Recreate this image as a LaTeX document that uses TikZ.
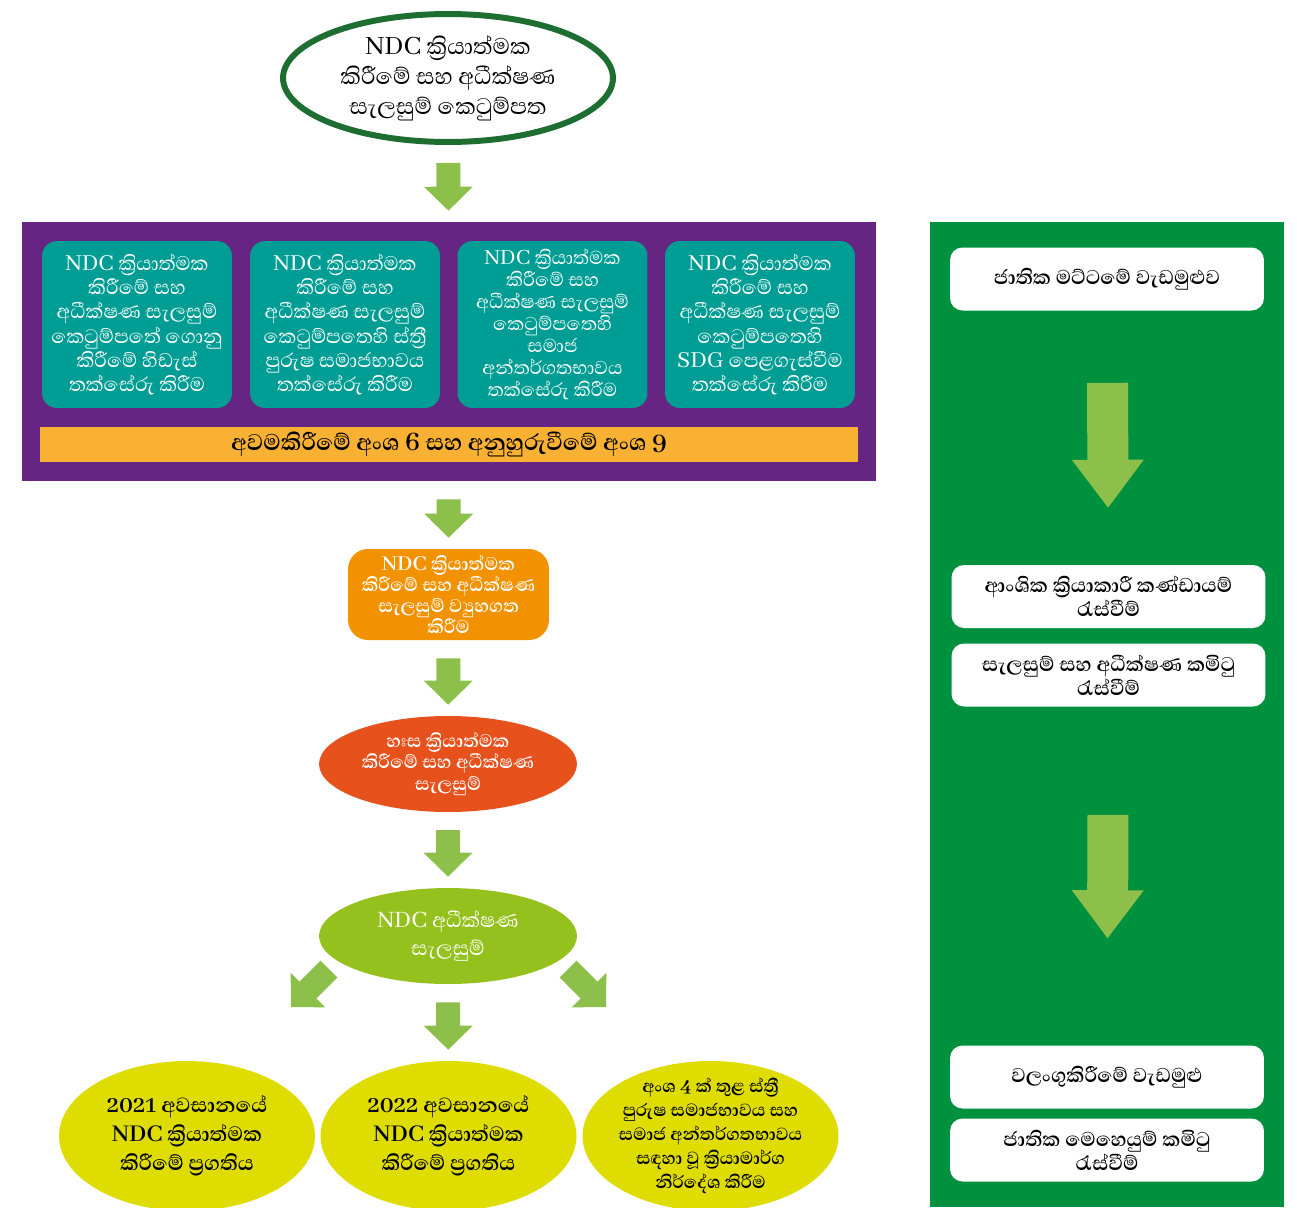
\documentclass[tikz,border=0pt]{standalone}
\usepackage{fontspec}
\setmainfont{Abhaya Libre}[Script=Sinhala]
\usetikzlibrary{arrows.meta,shapes.geometric}
\definecolor{ringgreen}{RGB}{30,110,50}
\definecolor{planpurple}{RGB}{102,36,131}
\definecolor{ndcteal}{RGB}{0,157,148}
\definecolor{barorange}{RGB}{248,177,51}
\definecolor{steporange}{RGB}{243,146,0}
\definecolor{stepred}{RGB}{230,81,28}
\definecolor{steplime}{RGB}{149,193,31}
\definecolor{outyellow}{RGB}{222,220,0}
\definecolor{panelgreen}{RGB}{0,145,63}
\definecolor{arrowgreen}{RGB}{141,192,75}
\newcommand\kriya{ක්^^^^200dරියාත්මක}
\newcommand\stri{ස්ත්^^^^200dරී}
\begin{document}
\begin{tikzpicture}[x=0.02cm, y=-0.02cm,
    gapbox/.style={rounded corners=0.3cm, fill=ndcteal, text=white, minimum width=3.8cm, minimum height=3.34cm, inner sep=0pt, align=center, font=\fontsize{14.3}{13.8}\selectfont},
    outcome/.style={ellipse, fill=outyellow, minimum width=5.12cm, minimum height=3cm, inner sep=0pt, align=center},
    meeting/.style={rounded corners=0.25cm, fill=white, minimum width=6.28cm, minimum height=1.26cm, inner sep=0pt, align=center, font=\bfseries\fontsize{14.5}{13.8}\selectfont},
    flowarrow/.style={draw=arrowgreen, line width=0.48cm, line cap=rect, -{Triangle[length=0.48cm, width=0.98cm, line width=0pt]}, shorten <=0.6cm, shorten >=0.22cm},
    bigarrow/.style={draw=arrowgreen, line width=0.82cm, line cap=rect, -{Triangle[length=0.96cm, width=1.44cm, line width=0pt]}}]
    \useasboundingbox (0,0) rectangle (1297,1207);

    % draft plan
    \node[ellipse, draw=ringgreen, line width=3.4pt, fill=white, minimum width=6.6cm, minimum height=2.56cm, inner sep=0pt, align=center, font=\fontsize{16.5}{17}\selectfont] (draft) at (448,78) {NDC \kriya\\ කිරීමේ සහ අධීක්ෂණ\\ සැලසුම් කෙටුම්පත};

    % assessments
    \node[fill=planpurple, minimum width=17.08cm, minimum height=5.18cm, inner sep=0pt] (assess) at (449,351.5) {};
    \node[gapbox] (gaps) at (137,324.5) {NDC \kriya\\ කිරීමේ සහ\\ අධීක්ෂණ සැලසුම්\\ කෙටුම්පතේ ගොනු\\ කිරීමේ හිඩැස්\\ තක්සේරු කිරීම};
    \node[gapbox] (gender) at (345,324.5) {NDC \kriya\\ කිරීමේ සහ\\ අධීක්ෂණ සැලසුම්\\ කෙටුම්පතෙහි \stri\\ පුරුෂ සමාජභාවය\\ තක්සේරු කිරීම};
    \node[gapbox, font=\fontsize{13.6}{12.6}\selectfont] (social) at (552.5,324.5) {NDC \kriya\\ කිරීමේ සහ\\ අධීක්ෂණ සැලසුම්\\ කෙටුම්පතෙහි\\ සමාජ\\ අන්තර්ගතභාවය\\ තක්සේරු කිරීම};
    \node[gapbox] (sdg) at (760,324.5) {NDC \kriya\\ කිරීමේ සහ\\ අධීක්ෂණ සැලසුම්\\ කෙටුම්පතෙහි\\ SDG පෙළගැස්වීම\\ තක්සේරු කිරීම};
    \node[fill=barorange, minimum width=16.36cm, minimum height=0.7cm, inner sep=0pt, font=\bfseries\fontsize{16.5}{17}\selectfont] (sectors) at (449,444.5) {අවමකිරීමේ අංශ 6 සහ අනුහුරුවීමේ අංශ 9};

    \node[rounded corners=0.4cm, fill=steporange, text=white, minimum width=4.02cm, minimum height=1.82cm, inner sep=0pt, align=center, font=\bfseries\fontsize{13.3}{12}\selectfont] (structure) at (448.5,594.5) {NDC \kriya\\ කිරීමේ සහ අධීක්ෂණ\\ සැලසුම් ව්^^^^200dයුහගත\\ කිරීම};
    \node[ellipse, fill=stepred, text=white, minimum width=5.16cm, minimum height=1.92cm, inner sep=0pt, align=center, font=\bfseries\fontsize{13.2}{12.2}\selectfont] (mrv) at (448,764) {හඃස \kriya\\ කිරීමේ සහ අධීක්ෂණ\\ සැලසුම්};
    \node[ellipse, fill=steplime, text=white, minimum width=5.16cm, minimum height=1.92cm, inner sep=0pt, align=center, font=\fontsize{14.7}{15.4}\selectfont] (monitor) at (448,936) {NDC අධීක්ෂණ\\ සැලසුම්};

    % outputs
    \node[outcome, font=\bfseries\fontsize{15}{16.5}\selectfont] (prog21) at (187,1136) {2021 අවසානයේ\\ NDC \kriya\\ කිරීමේ ප්^^^^200dරගතිය};
    \node[outcome, font=\bfseries\fontsize{15}{16.5}\selectfont] (prog22) at (448.5,1136) {2022 අවසානයේ\\ NDC \kriya\\ කිරීමේ ප්^^^^200dරගතිය};
    \node[outcome, inner xsep=-0.15cm, inner ysep=-0.3cm, font=\bfseries\fontsize{12.8}{13.7}\selectfont] (recom) at (710.5,1136) {අංශ 4 ක් තුළ \stri\\ පුරුෂ සමාජභාවය සහ\\ සමාජ අන්තර්ගතභාවය\\ සඳහා වූ ක්^^^^200dරියාමාර්ග\\ නිර්දේශ කිරීම};

    \draw[flowarrow] (draft) -- (assess);
    \draw[flowarrow] (assess) -- (structure);
    \draw[flowarrow] (structure) -- (mrv);
    \draw[flowarrow] (mrv) -- (monitor);
    \draw[flowarrow] (monitor) -- (prog22);
    \coordinate (lfrom) at (329,969);
    \coordinate (lto) at (291,1007);
    \coordinate (rfrom) at (568,969);
    \coordinate (rto) at (606,1007);
    \draw[flowarrow, shorten <=0.24cm, shorten >=0pt] (lfrom) -- (lto);
    \draw[flowarrow, shorten <=0.24cm, shorten >=0pt] (rfrom) -- (rto);

    % consultation process
    \node[fill=panelgreen, minimum width=7.08cm, minimum height=19.7cm, inner sep=0pt] (panel) at (1107,714.5) {};
    \node[meeting] (natws) at (1107,279) {ජාතික මට්ටමේ වැඩමුළුව};
    \node[meeting] (sectwg) at (1108.5,596.5) {ආංශික ක්^^^^200dරියාකාරී කණ්ඩායම්\\ රැස්වීම්};
    \node[meeting] (pmc) at (1108.5,675) {සැලසුම් සහ අධීක්ෂණ කමිටු\\ රැස්වීම්};
    \node[meeting] (valws) at (1107,1077) {වලංගුකිරීමේ වැඩමුළු};
    \node[meeting] (nsc) at (1107,1150) {ජාතික මෙහෙයුම් කමිටු\\ රැස්වීම්};
    \draw[bigarrow, shorten <=1.85cm, shorten >=1.14cm] (natws) -- (sectwg);
    \draw[bigarrow, shorten <=2.57cm, shorten >=2.14cm] (pmc) -- (valws);
\end{tikzpicture}
\end{document}
